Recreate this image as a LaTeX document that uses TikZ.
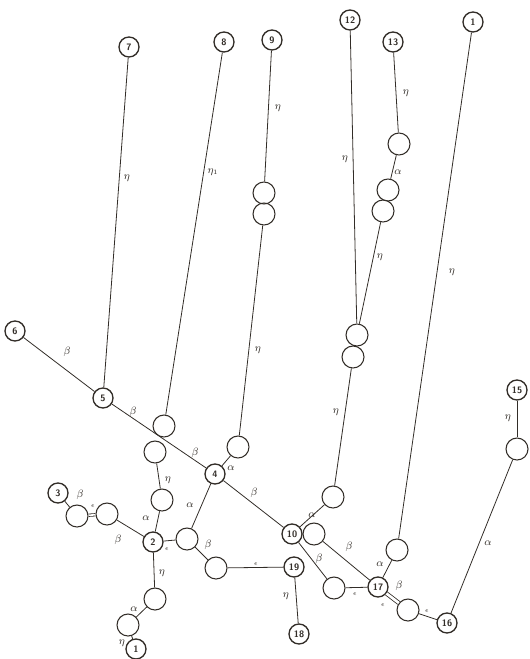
\documentclass[tikz,border=0pt]{standalone}
\definecolor{ink}{RGB}{50,45,40}
\begin{document}
\begin{tikzpicture}[x=0.75pt,y=-0.75pt,
  num/.style={circle,draw=ink,line width=1pt,inner sep=0pt,minimum size=15pt,text=ink,font=\fontsize{7}{8}\selectfont\sffamily\bfseries},
  emp/.style={circle,draw=ink,line width=0.8pt,inner sep=0pt,minimum size=16.5pt},
  ln/.style={draw=ink,line width=0.6pt},
  lab/.style={inner sep=0pt,text=ink,font=\fontsize{8}{9}\selectfont},
  sml/.style={inner sep=0pt,text=ink,font=\fontsize{5}{6}\selectfont}]
\useasboundingbox (0,0) rectangle (530,659);
% numbered nodes
\node[num] (n7) at (129,47) {7};
\node[num] (n8) at (224,42) {8};
\node[num] (n9) at (272,40) {9};
\node[num] (n12) at (350,20) {12};
\node[num] (n13) at (393,42) {13};
\node[num] (n1a) at (473,22) {1};
\node[num] (n6) at (15,331) {6};
\node[num] (n5) at (103,398) {5};
\node[num] (n4) at (215,474) {4};
\node[num] (n3) at (58,493) {3};
\node[num] (n2) at (153,542) {2};
\node[num] (n1b) at (136,649) {1};
\node[num] (n10) at (292,534) {10};
\node[num] (n19) at (294,567) {19};
\node[num] (n18) at (299,634) {18};
\node[num] (n17) at (378,587) {17};
\node[num] (n16) at (447,623) {16};
\node[num] (n15) at (517,390) {15};
% empty circles
\node[emp] (c9a) at (264,193) {};
\node[emp] (c9b) at (264,214) {};
\node[emp] (c13a) at (399,144) {};
\node[emp] (c13b) at (388,190) {};
\node[emp] (c13c) at (383,211) {};
\node[emp] (c12a) at (357,335) {};
\node[emp] (c12b) at (353,357) {};
\node[emp] (c10u) at (333,497) {};
\node[emp] (c10r) at (314,534) {};
\node[emp] (c1) at (397,550) {};
\node[emp] (c15) at (517,449) {};
\node[emp] (c16) at (408,610) {};
\node[emp] (c17l) at (334,588) {};
\node[emp] (c19l) at (216,568) {};
\node[emp] (c2r) at (187,539) {};
\node[emp] (c2u) at (162,500) {};
\node[emp] (c8a) at (164,426) {};
\node[emp] (c8b) at (155,452) {};
\node[emp] (c4) at (238,447) {};
\node[emp] (c3a) at (77,516) {};
\node[emp] (c3b) at (107,514) {};
\node[emp] (c2d) at (155,599) {};
\node[emp] (c1b) at (128,625) {};
% connectors
\draw[ln] (n6) -- (n5);
\draw[ln] (n7) -- (n5);
\draw[ln] (n5) -- (n4);
\draw[ln] (n8) -- (c8a);
\draw[ln] (c8b) -- (c2u);
\draw[ln] (c2u) -- (n2);
\draw[ln] (n9) -- (c9a);
\draw[ln] (c9b) -- (c4);
\draw[ln] (c4) -- (n4);
\draw[ln] (n4) -- (n10);
\draw[ln] (n4) -- (c2r);
\draw[ln] (n2) -- (c2r);
\draw[ln] (c2r) -- (c19l);
\draw[ln] (c19l) -- (n19);
\draw[ln] (n19) -- (n18);
\draw[ln] (n2) -- (c3b);
\draw[ln,double,double distance=1.2pt] (c3b) -- (c3a);
\draw[ln] (c3a) -- (n3);
\draw[ln] (n2) -- (c2d);
\draw[ln] (c2d) -- (c1b);
\draw[ln] (c1b) -- (n1b);
\draw[ln] (n12) -- (c12a);
\draw[ln] (n13) -- (c13a);
\draw[ln] (c13a) -- (c13b);
\draw[ln] (c13c) -- (c12a);
\draw[ln] (c12b) -- (c10u);
\draw[ln] (c10u) -- (n10);
\draw[ln] (c10r) -- (n17);
\draw[ln] (n10) -- (c17l);
\draw[ln] (c17l) -- (n17);
\draw[ln] (n1a) -- (c1);
\draw[ln] (c1) -- (n17);
\draw[ln,double,double distance=2pt] (n17) -- (c16);
\draw[ln] (c16) -- (n16);
\draw[ln] (n16) -- (c15);
\draw[ln] (c15) -- (n15);
% labels
\node[lab] (l1) at (67,352) {$\beta$};
\node[lab] (l2) at (127,178) {$\eta$};
\node[lab] (l3) at (133,412) {$\beta$};
\node[lab] (l4) at (195,453) {$\beta$};
\node[lab] (l5) at (213,172) {$\eta_{\scriptscriptstyle 1}$};
\node[lab] (l6) at (168,480) {$\eta$};
\node[lab] (l7) at (146,518) {$\alpha$};
\node[lab] (l8) at (278,108) {$\eta$};
\node[lab] (l9) at (258,350) {$\eta$};
\node[lab] (l10) at (231,468) {$\alpha$};
\node[lab] (l11) at (254,493) {$\beta$};
\node[lab] (l12) at (190,505) {$\alpha$};
\node[sml] (l13) at (167,549) {$\epsilon$};
\node[lab] (l14) at (208,545) {$\beta$};
\node[sml] (l15) at (256,564) {$\epsilon$};
\node[lab] (l16) at (286,596) {$\eta$};
\node[lab] (l17) at (118,540) {$\beta$};
\node[sml] (l18) at (93,506) {$\epsilon$};
\node[lab] (l19) at (80,495) {$\beta$};
\node[lab] (l20) at (162,573) {$\eta$};
\node[lab] (l21) at (134,609) {$\alpha$};
\node[lab] (l22) at (122,643) {$\eta$};
\node[lab] (l23) at (345,159) {$\eta$};
\node[lab] (l24) at (406,93) {$\eta$};
\node[lab] (l25) at (398,172) {$\alpha$};
\node[lab] (l26) at (380,257) {$\eta$};
\node[lab] (l27) at (336,412) {$\eta$};
\node[lab] (l28) at (312,515) {$\alpha$};
\node[lab] (l29) at (349,547) {$\beta$};
\node[lab] (l30) at (319,559) {$\beta$};
\node[sml] (l31) at (355,594) {$\epsilon$};
\node[lab] (l32) at (452,272) {$\eta$};
\node[lab] (l33) at (380,564) {$\alpha$};
\node[lab] (l34) at (399,586) {$\beta$};
\node[sml] (l35) at (383,605) {$\epsilon$};
\node[sml] (l36) at (427,611) {$\epsilon$};
\node[lab] (l37) at (488,543) {$\alpha$};
\node[lab] (l38) at (508,418) {$\eta$};
\end{tikzpicture}
\end{document}
